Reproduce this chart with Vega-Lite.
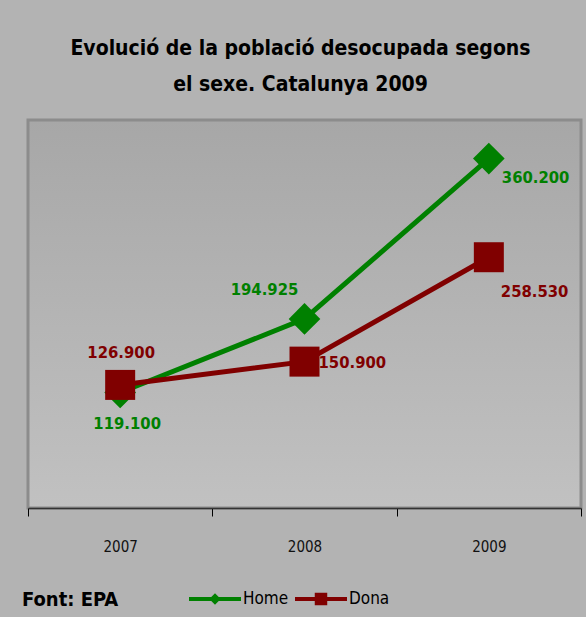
{
  "$schema": "https://vega.github.io/schema/vega-lite/v6.json",
  "width": 553,
  "height": 388,
  "autosize": "none",
  "padding": {"left": 28, "top": 120, "right": 5, "bottom": 109},
  "background": "#b3b3b3",
  "config": {
    "font": "DejaVu Sans Condensed",
    "view": {
      "fill": {"gradient": "linear", "x1": 0, "y1": 0, "x2": 0, "y2": 1, "stops": [{"offset": 0, "color": "#a7a7a7"}, {"offset": 1, "color": "#c1c1c1"}]},
      "stroke": "#8c8c8c",
      "strokeWidth": 3
    }
  },
  "title": {
    "text": ["Evolució de la població desocupada segons", "el sexe. Catalunya 2009"],
    "font": "DejaVu Sans Condensed",
    "fontSize": 21,
    "fontWeight": "bold",
    "lineHeight": 36,
    "color": "#000000",
    "offset": 25,
    "dx": -4
  },
  "data": {
    "values": [
      {"any": "2007", "sexe": "Home", "valor": 119.1, "etiqueta": "119.100"},
      {"any": "2008", "sexe": "Home", "valor": 194.925, "etiqueta": "194.925"},
      {"any": "2009", "sexe": "Home", "valor": 360.2, "etiqueta": "360.200"},
      {"any": "2007", "sexe": "Dona", "valor": 126.9, "etiqueta": "126.900"},
      {"any": "2008", "sexe": "Dona", "valor": 150.9, "etiqueta": "150.900"},
      {"any": "2009", "sexe": "Dona", "valor": 258.53, "etiqueta": "258.530"}
    ]
  },
  "encoding": {
    "x": {
      "field": "any",
      "type": "ordinal",
      "bandPosition": 0.5,
      "scale": {"type": "band", "paddingInner": 0, "paddingOuter": 0},
      "axis": {
        "title": null,
        "tickBand": "extent",
        "labelAngle": 0,
        "labelFont": "DejaVu Sans Condensed",
        "labelFontSize": 15,
        "labelColor": "#111111",
        "labelPadding": 23,
        "tickSize": 8,
        "tickColor": "#000000",
        "tickWidth": 1,
        "domainColor": "#333333",
        "domainWidth": 1.5
      }
    },
    "y": {
      "field": "valor",
      "type": "quantitative",
      "scale": {"domain": [0, 400]},
      "axis": null
    }
  },
  "layer": [
    {
      "mark": {"type": "point", "filled": true, "opacity": 0},
      "encoding": {
        "color": {
          "field": "sexe", "type": "nominal",
          "scale": {"domain": ["Home", "Dona"], "range": ["#008000", "#800000"]},
          "legend": {
            "title": "Font: EPA",
            "orient": "none",
            "legendX": -6,
            "legendY": 453,
            "direction": "horizontal",
            "titleOrient": "left",
            "titleAnchor": "middle",
            "titlePadding": 70,
            "titleFont": "DejaVu Sans Condensed",
            "titleFontSize": 20,
            "titleFontWeight": "bold",
            "titleColor": "#000000",
            "titleBaseline": "top",
            "labelFont": "DejaVu Sans Condensed",
            "labelFontSize": 17,
            "labelColor": "#000000",
            "labelOffset": 2,
            "symbolSize": 2704,
            "symbolStrokeWidth": 0,
            "symbolOpacity": 1,
            "columnPadding": 6
          }
        },
        "shape": {
          "field": "sexe", "type": "nominal",
          "scale": {"domain": ["Home", "Dona"], "range": ["M-1,-0.075L1,-0.075L1,0.075L-1,0.075Z M0,-0.22L0.22,0L0,0.22L-0.22,0Z", "M-1,-0.075L1,-0.075L1,0.075L-1,0.075Z M-0.24,-0.24L0.24,-0.24L0.24,0.24L-0.24,0.24Z"]},
          "legend": {
            "title": "Font: EPA",
            "orient": "none",
            "legendX": -6,
            "legendY": 453,
            "direction": "horizontal",
            "titleOrient": "left",
            "titleAnchor": "middle",
            "titlePadding": 70,
            "titleFont": "DejaVu Sans Condensed",
            "titleFontSize": 20,
            "titleFontWeight": "bold",
            "titleColor": "#000000",
            "titleBaseline": "top",
            "labelFont": "DejaVu Sans Condensed",
            "labelFontSize": 17,
            "labelColor": "#000000",
            "labelOffset": 2,
            "symbolSize": 2704,
            "symbolStrokeWidth": 0,
            "symbolOpacity": 1,
            "columnPadding": 6
          }
        }
      }
    },
    {
      "mark": {"type": "line", "strokeWidth": 5},
      "encoding": {
        "color": {"field": "sexe", "type": "nominal", "legend": null}
      }
    },
    {
      "transform": [{"filter": "datum.sexe === 'Home'"}],
      "mark": {"type": "point", "shape": "diamond", "filled": true, "size": 1000, "opacity": 1},
      "encoding": {
        "color": {"field": "sexe", "type": "nominal", "legend": null}
      }
    },
    {
      "transform": [{"filter": "datum.sexe === 'Dona'"}],
      "mark": {"type": "point", "shape": "square", "filled": true, "size": 900, "opacity": 1},
      "encoding": {
        "color": {"field": "sexe", "type": "nominal", "legend": null}
      }
    },
    {
      "transform": [{"filter": "datum.sexe === 'Home' && datum.any === '2007'"}],
      "mark": {"type": "text", "align": "center", "baseline": "middle", "dy": 32, "dx": 7, "fontSize": 16.5, "fontWeight": "bold", "color": "#008000"},
      "encoding": {"text": {"field": "etiqueta"}}
    },
    {
      "transform": [{"filter": "datum.sexe === 'Home' && datum.any === '2008'"}],
      "mark": {"type": "text", "align": "center", "baseline": "middle", "dy": -29, "dx": -40, "fontSize": 16.5, "fontWeight": "bold", "color": "#008000"},
      "encoding": {"text": {"field": "etiqueta"}}
    },
    {
      "transform": [{"filter": "datum.sexe === 'Home' && datum.any === '2009'"}],
      "mark": {"type": "text", "align": "left", "baseline": "middle", "dy": 19, "dx": 13, "fontSize": 16.5, "fontWeight": "bold", "color": "#008000"},
      "encoding": {"text": {"field": "etiqueta"}}
    },
    {
      "transform": [{"filter": "datum.sexe === 'Dona' && datum.any === '2007'"}],
      "mark": {"type": "text", "align": "center", "baseline": "middle", "dy": -32, "dx": 1, "fontSize": 16.5, "fontWeight": "bold", "color": "#800000"},
      "encoding": {"text": {"field": "etiqueta"}}
    },
    {
      "transform": [{"filter": "datum.sexe === 'Dona' && datum.any === '2008'"}],
      "mark": {"type": "text", "align": "left", "baseline": "middle", "dy": 1, "dx": 14, "fontSize": 16.5, "fontWeight": "bold", "color": "#800000"},
      "encoding": {"text": {"field": "etiqueta"}}
    },
    {
      "transform": [{"filter": "datum.sexe === 'Dona' && datum.any === '2009'"}],
      "mark": {"type": "text", "align": "left", "baseline": "middle", "dy": 35, "dx": 12, "fontSize": 16.5, "fontWeight": "bold", "color": "#800000"},
      "encoding": {"text": {"field": "etiqueta"}}
    }
  ]
}
